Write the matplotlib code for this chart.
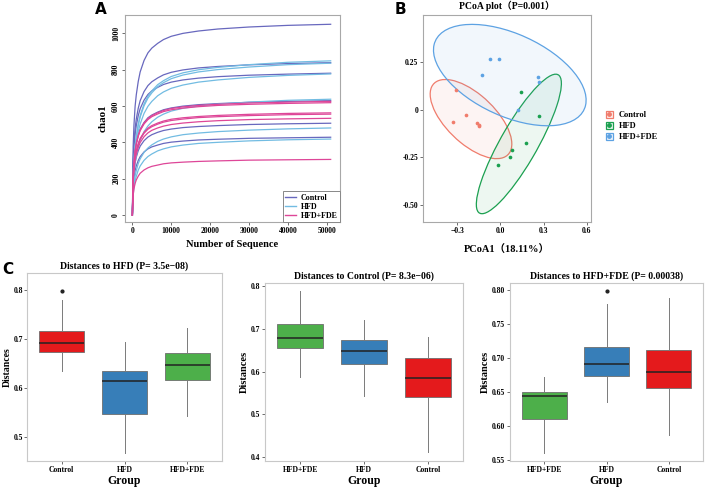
import numpy as np
import matplotlib
matplotlib.use("Agg")
import matplotlib.pyplot as plt
from matplotlib.patches import Ellipse, Patch
from matplotlib.lines import Line2D
from matplotlib.legend_handler import HandlerTuple

plt.rcParams['font.family'] = ['Liberation Serif', 'Noto Sans CJK SC', 'DejaVu Sans']
plt.rcParams['font.weight'] = 'bold'

# ---------------- data: rarefaction (panel A) ----------------
depths = [0, 200, 400, 700, 1000, 1500, 2000, 3000, 4000, 5000, 6500, 8000,
          10000, 13000, 17000, 22000, 30000, 40000, 51000]
control_curves = [
    [0, 378, 493, 598, 661, 734, 787, 850, 892, 918, 944, 965, 983, 999, 1012, 1023, 1034, 1043, 1049],
    [0, 302, 394, 478, 528, 587, 629, 679, 712, 733, 754, 771, 785, 798, 809, 817, 826, 833, 838],
    [0, 281, 367, 445, 491, 546, 585, 632, 663, 683, 702, 718, 731, 743, 753, 761, 769, 775, 780],
    [0, 226, 296, 359, 396, 440, 472, 509, 535, 550, 566, 579, 589, 599, 607, 613, 620, 625, 629],
    [0, 182, 237, 288, 318, 354, 379, 409, 429, 442, 455, 465, 473, 481, 487, 492, 498, 502, 505],
    [0, 154, 201, 244, 270, 300, 321, 347, 364, 375, 385, 394, 401, 407, 413, 417, 422, 425, 428],
]
hfd_curves = [
    [0, 220, 305, 382, 432, 500, 547, 611, 653, 683, 717, 739, 762, 782, 799, 812, 827, 840, 848],
    [0, 202, 279, 349, 396, 458, 501, 559, 598, 625, 656, 677, 697, 715, 731, 743, 757, 768, 776],
    [0, 166, 229, 287, 325, 376, 411, 459, 490, 513, 538, 555, 572, 587, 600, 610, 621, 631, 637],
    [0, 125, 172, 216, 244, 283, 309, 345, 369, 386, 405, 418, 430, 442, 451, 459, 467, 474, 479],
    [0, 109, 150, 188, 213, 247, 270, 301, 322, 336, 353, 364, 375, 385, 394, 400, 408, 414, 418],
    [0, 217, 301, 376, 426, 493, 539, 601, 643, 672, 706, 728, 750, 770, 787, 800, 814, 827, 835],
]
fde_curves = [
    [0, 222, 290, 352, 389, 433, 464, 501, 525, 541, 556, 569, 579, 588, 596, 603, 609, 614, 618],
    [0, 225, 294, 356, 394, 438, 469, 506, 531, 547, 563, 575, 586, 595, 603, 609, 616, 621, 625],
    [0, 202, 264, 320, 354, 393, 422, 455, 478, 492, 506, 517, 527, 535, 542, 548, 554, 559, 562],
    [0, 192, 250, 303, 335, 372, 399, 431, 452, 466, 479, 489, 498, 506, 513, 519, 525, 529, 532],
    [0, 110, 144, 174, 193, 214, 230, 248, 260, 268, 275, 282, 287, 291, 295, 298, 302, 304, 306],
    [0, 200, 261, 316, 350, 389, 416, 450, 472, 486, 500, 511, 520, 528, 536, 541, 547, 552, 555],
]

# ---------------- data: PCoA (panel B) ----------------
groups = ["Control", "HFD", "HFD+FDE"]
pc1_control = [-0.31, -0.33, -0.24, -0.16, -0.15, -0.15]
pc2_control = [0.10, -0.065, -0.03, -0.07, -0.085, -0.08]
pc1_hfd = [0.14, 0.27, 0.18, 0.08, 0.065, -0.02]
pc2_hfd = [0.09, -0.035, -0.175, -0.21, -0.25, -0.29]
pc1_fde = [-0.07, -0.01, -0.13, 0.26, 0.265, 0.12]
pc2_fde = [0.265, 0.265, 0.18, 0.17, 0.145, 0.0]
# ellipse centre and covariance-like shape (sxx, syy, sxy)
ell_center = [(-0.205, -0.05), (0.128, -0.18), (0.065, 0.18)]
ell_shape = [(0.0807, 0.0428, -0.037), (0.0876, 0.133, 0.0935), (0.282, 0.0702, -0.0696)]

# ---------------- data: beta dispersion boxplots (panel C) ----------------
box_titles = ["Distances to HFD (P= 3.5e\u221208)",
              "Distances to Control (P= 8.3e\u221206)",
              "Distances to HFD+FDE (P= 0.00038)"]
box_order = [["Control", "HFD", "HFD+FDE"],
             ["HFD+FDE", "HFD", "Control"],
             ["HFD+FDE", "HFD", "Control"]]
# per group: whislo, q1, median, q3, whishi
box_stats = [
    [[0.634, 0.673, 0.692, 0.716, 0.779], [0.469, 0.548, 0.614, 0.635, 0.694], [0.544, 0.617, 0.648, 0.672, 0.722]],
    [[0.587, 0.656, 0.679, 0.712, 0.788], [0.544, 0.617, 0.648, 0.673, 0.721], [0.412, 0.540, 0.584, 0.631, 0.681]],
    [[0.560, 0.610, 0.644, 0.650, 0.672], [0.635, 0.673, 0.691, 0.716, 0.779], [0.587, 0.656, 0.679, 0.712, 0.788]],
]
box_fliers = [[[0.798], [], []], [[], [], []], [[], [0.798], []]]
box_yticks = [[0.5, 0.6, 0.7, 0.8], [0.4, 0.5, 0.6, 0.7, 0.8], [0.55, 0.60, 0.65, 0.70, 0.75, 0.80]]
box_ylim = [(0.452, 0.834), (0.391, 0.807), (0.5485, 0.8097)]

curve_colors = {"Control": "#6868BE", "HFD": "#72BCE2", "HFD+FDE": "#DE4698"}
pcoa_colors = {"Control": "#F07C6C", "HFD": "#1BA050", "HFD+FDE": "#5DA2E3"}
box_colors = {"Control": "#E41A1C", "HFD": "#377EB8", "HFD+FDE": "#4DAF4A"}
frame_gray = "#a8a8a8"

fig = plt.figure(figsize=(7.08, 4.88), dpi=100)
W, H = 708, 488


def add_ax(l, t, r, b):
    return fig.add_axes([l / W, 1 - b / H, (r - l) / W, (b - t) / H])


def style_frame(ax, color=frame_gray, size=6):
    for s in ax.spines.values():
        s.set_color(color)
        s.set_linewidth(0.8)
    ax.tick_params(length=2, width=0.6, color="#555555", labelsize=size, pad=1.5)
    for lab in ax.get_xticklabels() + ax.get_yticklabels():
        lab.set_fontweight('bold')


# ---------------- Panel A ----------------
axA = add_ax(125, 15, 340, 222)
for curves, g in [(control_curves, "Control"), (hfd_curves, "HFD"), (fde_curves, "HFD+FDE")]:
    for c in curves:
        axA.plot(depths, c, color=curve_colors[g], lw=0.9)
axA.set_xlim(-1900, 53400)
axA.set_ylim(-38, 1100)
axA.set_xticks([0, 10000, 20000, 30000, 40000, 50000])
axA.set_yticks([0, 200, 400, 600, 800, 1000])
style_frame(axA, size=5.5)
for lab in axA.get_yticklabels():
    lab.set_rotation(90)
    lab.set_va('center')
axA.set_xlabel("Number of Sequence", fontsize=7.5, fontweight='bold', labelpad=4)
axA.set_ylabel("chao1", fontsize=8, fontweight='bold', labelpad=3)
hA = [Line2D([], [], color=curve_colors[g], lw=1) for g in groups]
legA = axA.legend(hA, groups, loc='lower right', borderaxespad=0,
                  handlelength=1.3, handletextpad=0.6, fancybox=False, framealpha=1,
                  edgecolor="#888888", borderpad=0.3, labelspacing=0.12,
                  prop={'weight': 'bold', 'size': 5.8})
legA.get_frame().set_linewidth(0.7)
fig.text(95 / W, 1 - 9 / H, "A", fontsize=11, fontweight='bold', family='DejaVu Sans', va='center')

# ---------------- Panel B ----------------
axB = add_ax(423, 15, 591, 222)
pts = [(pc1_control, pc2_control), (pc1_hfd, pc2_hfd), (pc1_fde, pc2_fde)]
for g, (cx, cy), (sxx, syy, sxy), (px, py) in zip(groups, ell_center, ell_shape, pts):
    cov = np.array([[sxx, sxy], [sxy, syy]])
    vals, vecs = np.linalg.eigh(cov)
    ang = np.degrees(np.arctan2(vecs[1, 1], vecs[0, 1]))
    axB.add_patch(Ellipse((cx, cy), 2 * np.sqrt(vals[1]), 2 * np.sqrt(vals[0]), angle=ang,
                          facecolor=pcoa_colors[g], alpha=0.08, edgecolor='none'))
    axB.add_patch(Ellipse((cx, cy), 2 * np.sqrt(vals[1]), 2 * np.sqrt(vals[0]), angle=ang,
                          facecolor='none', edgecolor=pcoa_colors[g], lw=0.9))
    axB.scatter(px, py, s=7, color=pcoa_colors[g], zorder=3, linewidths=0)
axB.set_xlim(-0.539, 0.63)
axB.set_ylim(-0.588, 0.494)
axB.set_xticks([-0.3, 0.0, 0.3, 0.6])
axB.set_yticks([-0.5, -0.25, 0, 0.25])
axB.set_yticklabels(["-0.50", "-0.25", "0", "0.25"])
style_frame(axB, size=5.5)
axB.set_title("PCoA plot（P=0.001）", fontsize=7, fontweight='bold', pad=4)
axB.set_xlabel("PCoA1（18.11%）", fontsize=7.5, fontweight='bold', labelpad=7)
hB = [(Patch(facecolor=pcoa_colors[g], alpha=0.1, edgecolor='none'),
       Patch(facecolor='none', edgecolor=pcoa_colors[g], lw=0.9),
       Line2D([], [], marker='o', ls='none', ms=2.5, color=pcoa_colors[g]))
      for g in groups]
fig.legend(hB, groups, loc='center left', bbox_to_anchor=(598 / W, 1 - 126 / H),
           handler_map={tuple: HandlerTuple(ndivide=1, pad=0)}, frameon=False,
           handlelength=0.9, handleheight=0.9, handletextpad=0.7, labelspacing=0.35,
           prop={'weight': 'bold', 'size': 6})
fig.text(395 / W, 1 - 9 / H, "B", fontsize=11, fontweight='bold', family='DejaVu Sans', va='center')

# ---------------- Panel C ----------------
boxC = [(27, 273, 222, 461), (265, 283, 463, 461), (510, 283, 703, 461)]
for i in range(3):
    ax = add_ax(*boxC[i])
    stats = []
    for g, s, fl in zip(box_order[i], box_stats[i], box_fliers[i]):
        stats.append({'whislo': s[0], 'q1': s[1], 'med': s[2], 'q3': s[3], 'whishi': s[4],
                      'fliers': fl, 'label': g})
    bp = ax.bxp(stats, positions=[1, 2, 3], widths=0.72, patch_artist=True, showcaps=False,
                boxprops={'edgecolor': '#6e6e6e', 'linewidth': 0.6},
                whiskerprops={'color': '#7a7a7a', 'linewidth': 0.7},
                medianprops={'color': '#222222', 'linewidth': 1.1},
                flierprops={'marker': 'o', 'markersize': 2, 'markerfacecolor': '#222222',
                            'markeredgecolor': '#222222'})
    for patch, g in zip(bp['boxes'], box_order[i]):
        patch.set_facecolor(box_colors[g])
    ax.set_xlim(0.45, 3.55)
    ax.set_ylim(*box_ylim[i])
    ax.set_yticks(box_yticks[i])
    if i == 2:
        ax.set_yticklabels(["%.2f" % v for v in box_yticks[i]])
    else:
        ax.set_yticklabels(["%.1f" % v for v in box_yticks[i]])
    style_frame(ax, "#c8c8c8", size=5.5)
    if i == 0:
        ax.tick_params(axis='y', pad=1)
    ax.set_title(box_titles[i], fontsize=7, fontweight='bold', pad=3)
    ax.set_xlabel("Group", fontsize=8.5, fontweight='bold', labelpad=1)
    ax.set_ylabel("Distances", fontsize=7.5 if i else 7, fontweight='bold', labelpad=1.5)
    if i == 0:
        ax.yaxis.set_label_coords(-15 / 195, 0.5)
fig.text(2 / W, 1 - 270 / H, "C", fontsize=11, fontweight='bold', family='DejaVu Sans', va='center')

fig.savefig("out.png", dpi=100)
